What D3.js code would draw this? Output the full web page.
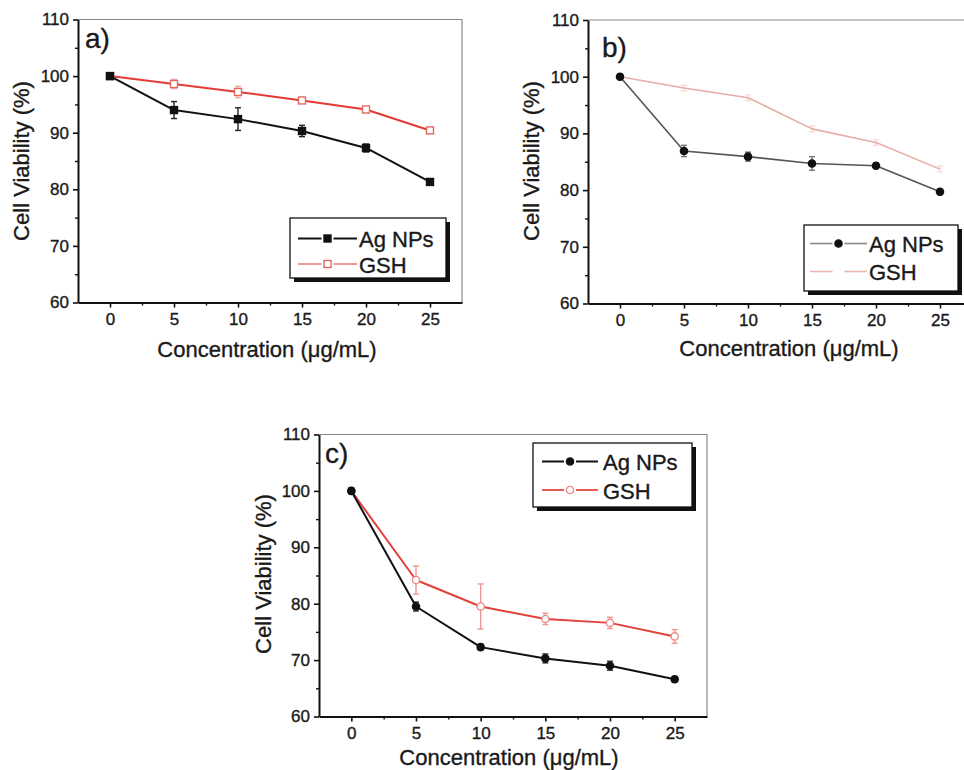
<!DOCTYPE html>
<html>
<head>
<meta charset="utf-8">
<script src="https://cdn.jsdelivr.net/npm/d3@7"></script>
<style>
  html, body { margin: 0; padding: 0; background: #fff; }
  svg { display: block; font-family: "Liberation Sans", Arial, sans-serif; }
  svg text { stroke: #1a1a1a; stroke-width: 0.35px; }
</style>
</head>
<body>
<svg id="chart" width="964" height="770"></svg>
<script>
// ---------- data ----------
const concentrations = [0, 5, 10, 15, 20, 25];
const xTicks = [0, 5, 10, 15, 20, 25];
const xMinorTicks = [2.5, 7.5, 12.5, 17.5, 22.5];
const yTicks = [60, 70, 80, 90, 100, 110];
const yMinorTicks = [65, 75, 85, 95, 105];
const seriesNames = ["Ag NPs", "GSH"];
const panelLabels = ["a)", "b)", "c)"];
const xTitle = "Concentration (\u03bcg/mL)";
const yTitle = "Cell Viability (%)";

// panel a
const agA = [100, 94.0, 92.4, 90.3, 87.3, 81.3];
const agAErr = [0.3, 1.5, 2.0, 1.0, 0.7, 0.5];
const gshA = [100, 98.6, 97.2, 95.7, 94.1, 90.4];
const gshAErr = [0.3, 0.8, 1.0, 0.5, 0.5, 0.5];
// panel b
const agB = [100, 86.9, 85.9, 84.7, 84.3, 79.7];
const agBErr = [0.5, 1.0, 0.8, 1.2, 0.5, 0.5];
const gshB = [100, 98.0, 96.3, 90.8, 88.4, 83.7];
const gshBErr = [0.3, 0.5, 0.5, 0.5, 0.5, 0.5];
// panel c
const agC = [100, 79.5, 72.3, 70.3, 69.0, 66.6];
const agCErr = [0.5, 0.8, 0.5, 0.8, 0.8, 0.5];
const gshC = [100, 84.2, 79.5, 77.3, 76.6, 74.2];
const gshCErr = [0.5, 2.5, 4.0, 1.0, 1.0, 1.2];

// ---------- layout / styles ----------
const panels = [
  { label: panelLabels[0], ag: agA, agErr: agAErr, gsh: gshA, gshErr: gshAErr,
    left: 78, right: 462, top: 19.5, bottom: 302.5,
    labelPos: [85, 48], yTitlePos: [29, 161], xTitlePos: [267, 357],
    legend: { x: 290, y: 218, w: 156, h: 60, sx0: 298, sx1: 357, tx: 359, rows: [238.5, 264], base: [246.5, 273] },
    agStyle: { line: "#111", width: 2, marker: "square", mfill: "#111", mstroke: "#111", err: "#222" },
    gshStyle: { line: "#e33b34", width: 2, marker: "square", mfill: "#fff", mstroke: "#e06a60", err: "#f0a8a0", legLine: "#f09a92" } },
  { label: panelLabels[1], ag: agB, agErr: agBErr, gsh: gshB, gshErr: gshBErr,
    left: 588, right: 972, top: 20, bottom: 303.5,
    labelPos: [602, 57], yTitlePos: [539, 161], xTitlePos: [789, 356],
    legend: { x: 804, y: 225, w: 154, h: 66, sx0: 810, sx1: 867, tx: 869, rows: [243.5, 271.5], base: [252, 280] },
    agStyle: { line: "#555", width: 1.6, marker: "circle", mfill: "#111", mstroke: "#111", err: "#777", legLine: "#888" },
    gshStyle: { line: "#e6aea6", width: 1.6, marker: "none", mfill: "#fff", mstroke: "#e6aea6", err: "#f6dcd8", legLine: "#e8b8b0" } },
  { label: panelLabels[2], ag: agC, agErr: agCErr, gsh: gshC, gshErr: gshCErr,
    left: 319, right: 707, top: 434.5, bottom: 716.5,
    labelPos: [325, 463], yTitlePos: [271, 574], xTitlePos: [509, 765],
    legend: { x: 533, y: 443, w: 159, h: 64, sx0: 542, sx1: 598, tx: 603, rows: [461.5, 490], base: [470, 498.5] },
    agStyle: { line: "#111", width: 2, marker: "circle", mfill: "#111", mstroke: "#111", err: "#333" },
    gshStyle: { line: "#e2403a", width: 2, marker: "circle", mfill: "#fff", mstroke: "#eb8a84", err: "#f09690", legLine: "#e85a52" } }
];

const svg = d3.select("#chart");
const textColor = "#1a1a1a";

function drawMarker(g, type, x, y, fill, stroke) {
  if (type === "square") {
    g.append("rect").attr("x", x - 3.5).attr("y", y - 3.5).attr("width", 7).attr("height", 7)
      .attr("fill", fill).attr("stroke", stroke).attr("stroke-width", 1.4);
  } else if (type === "circle") {
    g.append("circle").attr("cx", x).attr("cy", y).attr("r", 3.6)
      .attr("fill", fill).attr("stroke", stroke).attr("stroke-width", 1.4);
  }
}

panels.forEach(p => {
  const x = d3.scaleLinear().domain([-2.5, 27.5]).range([p.left, p.right]);
  const y = d3.scaleLinear().domain([60, 110]).range([p.bottom, p.top]);
  const g = svg.append("g");

  // frame (top + right), thin gray
  g.append("path")
    .attr("d", `M${p.left},${p.top}H${p.right}V${p.bottom}`)
    .attr("fill", "none").attr("stroke", "#8a8a8a").attr("stroke-width", 1.2);

  // x axis major + minor
  const xAxis = d3.axisBottom(x).tickValues(xTicks).tickSize(5).tickSizeOuter(0).tickPadding(5).tickFormat(d3.format("d"));
  const gx = g.append("g").attr("transform", `translate(0,${p.bottom})`).call(xAxis);
  gx.select(".domain").attr("stroke", "#111").attr("stroke-width", 2);
  gx.selectAll(".tick line").attr("stroke", "#111").attr("stroke-width", 1.6);
  gx.selectAll(".tick text").attr("font-size", 17).attr("fill", textColor)
    .attr("font-family", "Liberation Sans, Arial, sans-serif");
  const gxm = g.append("g").attr("transform", `translate(0,${p.bottom})`)
    .call(d3.axisBottom(x).tickValues(xMinorTicks).tickSize(3).tickFormat(""));
  gxm.select(".domain").remove();
  gxm.selectAll(".tick line").attr("stroke", "#111").attr("stroke-width", 1.4);

  // y axis major + minor
  const yAxis = d3.axisLeft(y).tickValues(yTicks).tickSize(5).tickSizeOuter(0).tickPadding(4).tickFormat(d3.format("d"));
  const gy = g.append("g").attr("transform", `translate(${p.left},0)`).call(yAxis);
  gy.select(".domain").attr("stroke", "#111").attr("stroke-width", 2);
  gy.selectAll(".tick line").attr("stroke", "#111").attr("stroke-width", 1.6);
  gy.selectAll(".tick text").attr("font-size", 17).attr("fill", textColor)
    .attr("font-family", "Liberation Sans, Arial, sans-serif");
  const gym = g.append("g").attr("transform", `translate(${p.left},0)`)
    .call(d3.axisLeft(y).tickValues(yMinorTicks).tickSize(3).tickFormat(""));
  gym.select(".domain").remove();
  gym.selectAll(".tick line").attr("stroke", "#111").attr("stroke-width", 1.4);

  // titles
  g.append("text").attr("x", p.xTitlePos[0]).attr("y", p.xTitlePos[1])
    .attr("text-anchor", "middle").attr("font-size", 22).attr("fill", textColor).text(xTitle);
  g.append("text").attr("transform", `translate(${p.yTitlePos[0]},${p.yTitlePos[1]}) rotate(-90)`)
    .attr("text-anchor", "middle").attr("font-size", 22).attr("fill", textColor).text(yTitle);
  g.append("text").attr("x", p.labelPos[0]).attr("y", p.labelPos[1])
    .attr("font-size", 28).attr("fill", textColor).text(p.label);

  // series
  const series = [
    { vals: p.gsh, err: p.gshErr, st: p.gshStyle },
    { vals: p.ag, err: p.agErr, st: p.agStyle }
  ];
  const line = d3.line().x((d, i) => x(concentrations[i])).y(d => y(d));
  series.forEach(s => {
    const sg = g.append("g");
    // error bars
    s.vals.forEach((v, i) => {
      const cx = x(concentrations[i]);
      const y0 = y(v - s.err[i]), y1 = y(v + s.err[i]);
      sg.append("line").attr("x1", cx).attr("x2", cx).attr("y1", y0).attr("y2", y1)
        .attr("stroke", s.st.err).attr("stroke-width", 1.4);
      [y0, y1].forEach(yy => sg.append("line").attr("x1", cx - 3).attr("x2", cx + 3)
        .attr("y1", yy).attr("y2", yy).attr("stroke", s.st.err).attr("stroke-width", 1.4));
    });
    sg.append("path").datum(s.vals).attr("d", line)
      .attr("fill", "none").attr("stroke", s.st.line).attr("stroke-width", s.st.width)
      .attr("stroke-linejoin", "round");
    s.vals.forEach((v, i) => drawMarker(sg, s.st.marker, x(concentrations[i]), y(v), s.st.mfill, s.st.mstroke));
  });

  // legend
  const L = p.legend;
  const lg = g.append("g");
  lg.append("rect").attr("x", L.x + 4).attr("y", L.y + 4).attr("width", L.w).attr("height", L.h).attr("fill", "#111");
  lg.append("rect").attr("x", L.x).attr("y", L.y).attr("width", L.w).attr("height", L.h)
    .attr("fill", "#fff").attr("stroke", "#111").attr("stroke-width", 1.3);
  [p.agStyle, p.gshStyle].forEach((st, k) => {
    const ly = L.rows[k];
    const mid = (L.sx0 + L.sx1) / 2;
    const col = st.legLine || st.line;
    lg.append("line").attr("x1", L.sx0).attr("x2", mid - 6).attr("y1", ly).attr("y2", ly)
      .attr("stroke", col).attr("stroke-width", st.width);
    lg.append("line").attr("x1", mid + 6).attr("x2", L.sx1).attr("y1", ly).attr("y2", ly)
      .attr("stroke", col).attr("stroke-width", st.width);
    drawMarker(lg, st.marker, mid, ly, st.mfill, st.mstroke);
    lg.append("text").attr("x", L.tx).attr("y", L.base[k]).attr("font-size", 22)
      .attr("fill", textColor).text(seriesNames[k]);
  });
});
</script>
</body>
</html>
